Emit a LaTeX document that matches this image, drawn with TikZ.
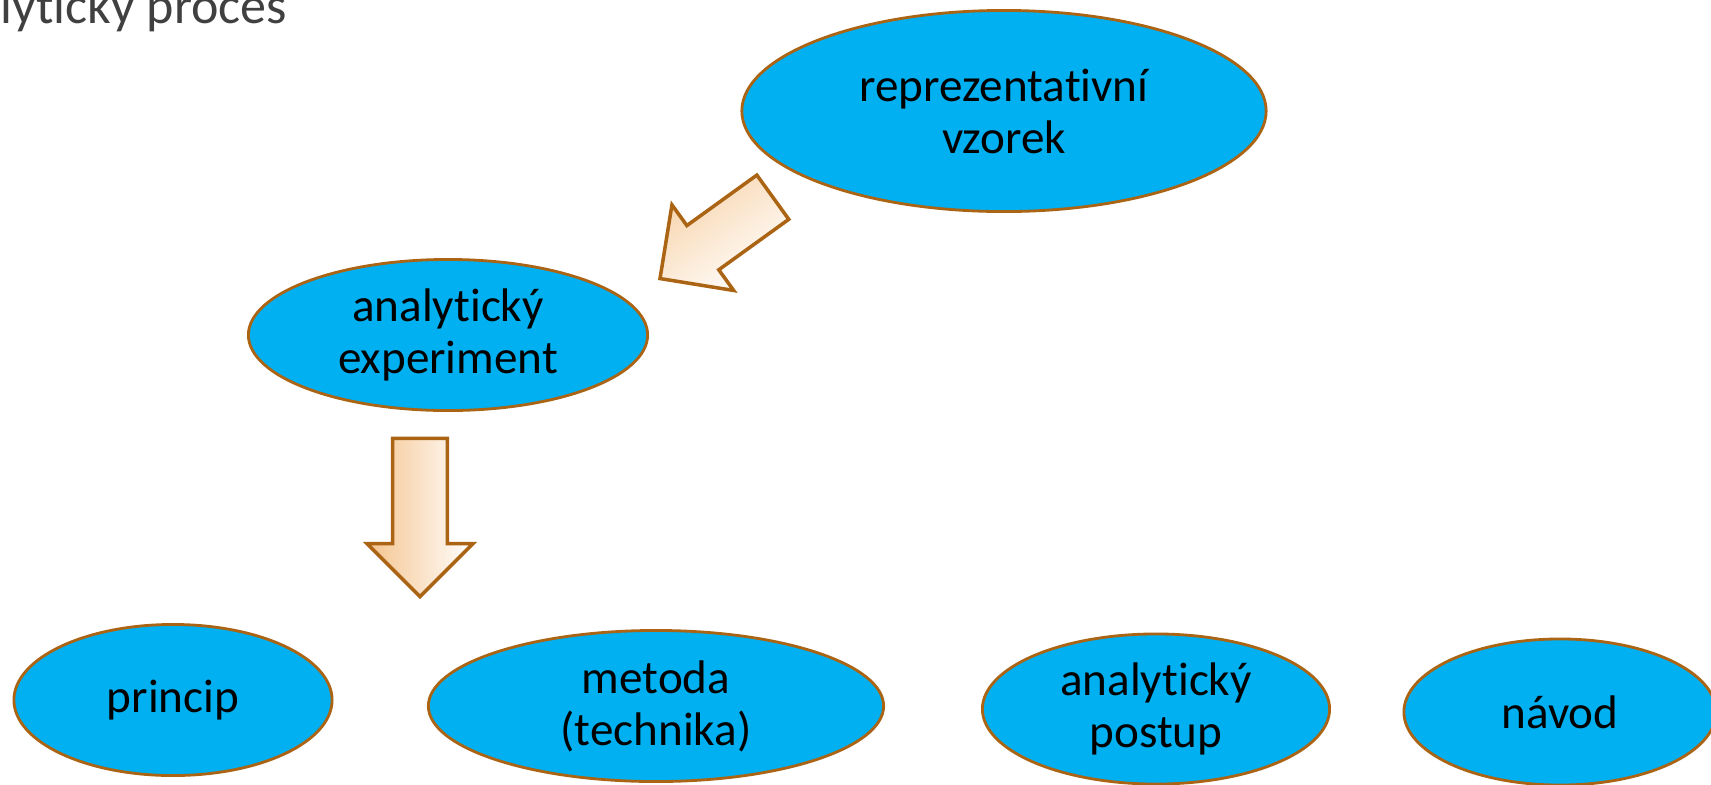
\documentclass[tikz,border=0pt]{standalone}
\usepackage{fontspec}
\setmainfont[Ligatures=NoCommon]{Carlito}
\usetikzlibrary{shapes.geometric,shapes.arrows}
\definecolor{bublina}{HTML}{00B0F0}
\definecolor{okraj}{RGB}{170,100,20}
\definecolor{oranz}{RGB}{245,196,142}
\definecolor{oranzsv}{RGB}{248,212,172}
\definecolor{titulek}{HTML}{404040}
\tikzset{
  pojem/.style={ellipse,draw=okraj,line width=0.8pt,fill=bublina,inner sep=0pt,
    align=center,font=\fontsize{13.4}{14.8}\selectfont},
  sipka/.style={single arrow,draw=okraj,line width=1pt,inner xsep=0pt,
    inner ysep=0.255cm,single arrow head extend=0.255cm,anchor=tip}
}
\begin{document}
\begin{tikzpicture}[x=0.01cm,y=-0.01cm]
        \useasboundingbox (0,0) rectangle (1711,784);
        %% Title
        \node[anchor=base west,inner sep=0pt,text=titulek,font=\fontsize{14.8}{17}\selectfont] (nadpis) at (0,23) {lytický proces};
        %% Concepts
        \node[pojem,minimum width=5.24cm,minimum height=2.01cm] (vzorek) at (1004,111) {reprezentativní\\vzorek};
        \node[pojem,minimum width=3.99cm,minimum height=1.51cm] (experiment) at (448,335) {analytický\\experiment};
        \node[pojem,minimum width=3.18cm,minimum height=1.51cm] (princip) at (173,700) {princip};
        \node[pojem,minimum width=4.55cm,minimum height=1.51cm] (metoda) at (656,706) {metoda\\(technika)};
        \node[pojem,minimum width=3.47cm,minimum height=1.50cm] (postup) at (1156,709) {analytický\\postup};
        \node[pojem,minimum width=3.12cm,minimum height=1.46cm] (navod) at (1560,712) {návod};
        %% Arrows
        \node[sipka,minimum height=1.39cm,minimum width=1.04cm,rotate=215.8,
          left color=oranzsv,middle color=oranz,right color=white,shading angle=35.8] (sipkaA) at (658,280) {};
        \node[sipka,minimum height=1.58cm,minimum width=1.02cm,rotate=-90,
          left color=oranz,right color=white] (sipkaB) at (420,599) {};
\end{tikzpicture}
\end{document}
